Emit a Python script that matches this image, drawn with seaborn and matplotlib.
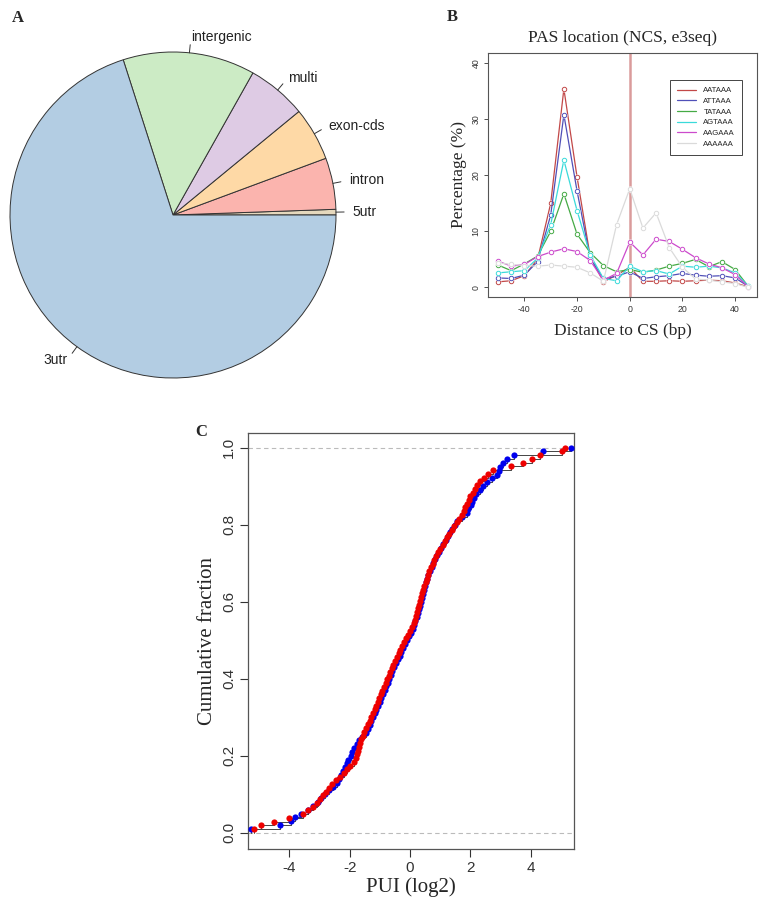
import numpy as np
import pandas as pd
import matplotlib
matplotlib.use('Agg')
import matplotlib.pyplot as plt
from matplotlib.lines import Line2D
import seaborn as sns

# ---- panel A: genomic location of sites (percent) ----
pie_labels = ['5utr', 'intron', 'exon-cds', 'multi', 'intergenic', '3utr']
pie_values = [0.56, 5.1, 5.3, 5.9, 13.1, 70.1]
pie_colors = ['#E5D8BD', '#FBB4AE', '#FED9A6', '#DECBE4', '#CCEBC5', '#B3CDE3']

# ---- panel B: PAS position relative to cleavage site ----
distance = list(range(-50, 50, 5))
motifs = ['AATAAA', 'ATTAAA', 'TATAAA', 'AGTAAA', 'AAGAAA', 'AAAAAA']
pct_AATAAA = [1.0, 1.2, 2.1, 5.0, 15.0, 35.4, 19.7, 5.5, 1.0, 2.2,
              3.6, 1.1, 1.1, 1.2, 1.1, 1.2, 1.3, 1.2, 0.8, 0.1]
pct_ATTAAA = [1.7, 1.6, 2.2, 4.6, 12.9, 30.8, 17.2, 5.2, 1.5, 2.0,
              2.8, 1.6, 1.9, 2.1, 2.5, 2.2, 2.0, 2.1, 1.7, 0.2]
pct_TATAAA = [4.0, 3.0, 4.2, 5.6, 10.0, 16.7, 9.5, 6.2, 3.9, 2.8,
              3.2, 2.7, 3.1, 3.8, 4.3, 5.0, 3.7, 4.6, 3.2, 0.2]
pct_AGTAAA = [2.6, 2.8, 3.0, 5.2, 11.2, 22.7, 13.7, 5.8, 1.6, 1.2,
              3.8, 2.8, 3.0, 2.4, 3.8, 3.6, 3.8, 3.5, 2.6, 0.3]
pct_AAGAAA = [4.7, 3.8, 4.1, 5.5, 6.3, 6.9, 6.4, 4.8, 1.3, 2.5,
              8.1, 5.8, 8.6, 8.2, 6.8, 5.3, 4.2, 3.5, 2.3, 0.1]
pct_AAAAAA = [4.4, 4.1, 3.9, 3.8, 4.0, 3.8, 3.6, 2.6, 1.1, 11.2,
              17.6, 10.6, 13.3, 7.1, 3.6, 1.5, 1.3, 1.0, 0.7, 0.0]
motif_colors = ['#C24848', '#5050B8', '#45AA45', '#3ADADA', '#CC4ACC', '#DADADA']

# ---- panel C: PUI values (log2) of the two groups ----
pui_blue = [-5.28, -4.30, -3.96, -3.82, -3.61, -3.39, -3.21, -3.06, -2.94, -2.81,
            -2.68, -2.55, -2.42, -2.36, -2.29, -2.23, -2.16, -2.10, -2.04, -1.97,
            -1.91, -1.85, -1.77, -1.69, -1.58, -1.47, -1.40, -1.34, -1.28, -1.22,
            -1.17, -1.11, -1.06, -1.00, -0.95, -0.89, -0.84, -0.79, -0.73, -0.68,
            -0.63, -0.58, -0.52, -0.46, -0.40, -0.34, -0.29, -0.23, -0.17, -0.11,
            -0.04, 0.04, 0.11, 0.15, 0.18, 0.22, 0.26, 0.29, 0.33, 0.37,
            0.40, 0.44, 0.47, 0.51, 0.54, 0.58, 0.61, 0.67, 0.73, 0.78,
            0.84, 0.90, 0.97, 1.04, 1.11, 1.18, 1.26, 1.33, 1.40, 1.48,
            1.55, 1.72, 1.88, 1.94, 2.01, 2.07, 2.14, 2.20, 2.31, 2.41,
            2.54, 2.72, 2.89, 2.94, 3.00, 3.08, 3.21, 3.45, 4.42, 5.33]
pui_red = [-5.17, -4.94, -4.51, -4.00, -3.53, -3.39, -3.21, -3.09, -2.97, -2.89,
           -2.80, -2.70, -2.57, -2.44, -2.31, -2.19, -2.08, -1.98, -1.87, -1.80,
           -1.76, -1.73, -1.69, -1.66, -1.62, -1.57, -1.51, -1.46, -1.40, -1.34,
           -1.28, -1.22, -1.17, -1.12, -1.07, -1.02, -0.97, -0.92, -0.86, -0.81,
           -0.76, -0.71, -0.65, -0.60, -0.55, -0.49, -0.43, -0.37, -0.32, -0.26,
           -0.20, -0.14, -0.07, 0.00, 0.07, 0.13, 0.16, 0.19, 0.23, 0.26,
           0.30, 0.33, 0.37, 0.40, 0.44, 0.48, 0.52, 0.55, 0.59, 0.64,
           0.70, 0.76, 0.81, 0.87, 0.94, 1.01, 1.08, 1.15, 1.22, 1.30,
           1.39, 1.47, 1.55, 1.63, 1.71, 1.78, 1.84, 1.89, 1.95, 2.00,
           2.08, 2.15, 2.23, 2.32, 2.45, 2.59, 2.76, 3.35, 3.76, 4.06,
           4.31, 5.03, 5.14]

sns.set_style('ticks')
plt.rcParams['font.family'] = ['Liberation Sans', 'DejaVu Sans']
plt.rcParams['axes.unicode_minus'] = False
SERIF = 'Liberation Serif'
FRAME = '#555555'

fig = plt.figure(figsize=(7.61, 9.08), dpi=100)
W, H = 761.0, 908.0

def px_axes(left, top, right, bottom):
    return fig.add_axes([left / W, 1 - bottom / H, (right - left) / W, (bottom - top) / H])

# ================= A: pie =================
axA = px_axes(10, 52, 336, 378)
wedges, _ = axA.pie(pie_values, colors=pie_colors, startangle=0, counterclock=True,
                    radius=1.0, wedgeprops=dict(edgecolor='#333333', linewidth=0.7))
for w, lab in zip(wedges, pie_labels):
    mid = np.deg2rad((w.theta1 + w.theta2) / 2)
    cx, cy = np.cos(mid), np.sin(mid)
    axA.plot([cx, 1.05 * cx], [cy, 1.05 * cy], color='#333333', lw=0.7, clip_on=False)
    axA.text(1.1 * cx, 1.1 * cy, lab, ha='left' if cx >= 0 else 'right', va='center',
             fontsize=10, color='#222222', clip_on=False)
axA.set_xlim(-1, 1)
axA.set_ylim(-1, 1)
axA.set_aspect('auto')
axA.axis('off')

# ================= B: PAS location =================
axB = px_axes(488, 53, 757, 297)
pas = pd.DataFrame({'distance': distance,
                    'AATAAA': pct_AATAAA, 'ATTAAA': pct_ATTAAA, 'TATAAA': pct_TATAAA,
                    'AGTAAA': pct_AGTAAA, 'AAGAAA': pct_AAGAAA, 'AAAAAA': pct_AAAAAA})
pas_long = pas.melt(id_vars='distance', var_name='motif', value_name='pct')

axB.axvline(0, color='#D48A8A', lw=1.8, alpha=0.85, zorder=1)
handles = []
for i, (m, c) in enumerate(zip(motifs, motif_colors)):
    sub = pas_long[pas_long['motif'] == m]
    z = 2 + i
    sns.lineplot(data=sub, x='distance', y='pct', color=c, lw=0.9, ax=axB,
                 legend=False, zorder=z)
    axB.plot(sub['distance'], sub['pct'], 'o', ms=4.4, mfc='white', mec='none', zorder=z + 0.1)
    axB.plot(sub['distance'], sub['pct'], 'o', ms=3.2, mfc='none', mec=c, mew=0.7, zorder=z + 0.2)
    handles.append(Line2D([], [], color=c, lw=0.9))

axB.set_xlim(-53.8, 48.3)
axB.set_ylim(-1.7, 41.8)
axB.set_xticks([-40, -20, 0, 20, 40])
axB.set_yticks([0, 10, 20, 30, 40])
axB.tick_params(axis='both', labelsize=6.3, colors='#333333', length=3, width=0.6, pad=2.5)
plt.setp(axB.get_yticklabels(), rotation=90, va='center')
axB.set_xlabel('Distance to CS (bp)', family=SERIF, fontsize=12.5, labelpad=7)
axB.set_ylabel('Percentage (%)', family=SERIF, fontsize=12.5, labelpad=3)
axB.set_title('PAS location (NCS, e3seq)', family=SERIF, fontsize=12.5, pad=8)
for s in axB.spines.values():
    s.set_color(FRAME)
    s.set_linewidth(0.8)
leg = axB.legend(handles, motifs, loc='upper right', bbox_to_anchor=(0.959, 0.906),
                 fontsize=5.6, handlelength=2.4, handletextpad=1.0, labelspacing=0.42,
                 borderpad=0.9, fancybox=False, framealpha=1)
leg.get_frame().set_edgecolor('#444444')
leg.get_frame().set_linewidth(0.7)

# ================= C: cumulative fraction =================
axC = px_axes(248, 433, 574, 849)
pui = pd.DataFrame({'pui': pui_blue + pui_red,
                    'group': ['blue'] * len(pui_blue) + ['red'] * len(pui_red)})
pui = pui.sort_values(['group', 'pui']).reset_index(drop=True)
pui['frac'] = (pui.groupby('group').cumcount() + 1) / pui.groupby('group')['pui'].transform('size')

axC.axhline(0, color='#BBBBBB', lw=0.8, ls=(0, (4, 3)), zorder=0)
axC.axhline(1, color='#BBBBBB', lw=0.8, ls=(0, (4, 3)), zorder=0)
sns.ecdfplot(data=pui, x='pui', hue='group', palette={'blue': '#444444', 'red': '#444444'},
             lw=0.7, ax=axC, legend=False)
sns.scatterplot(data=pui[pui['group'] == 'blue'], x='pui', y='frac', color='#0000EE',
                s=20, linewidth=0, ax=axC, zorder=3)
sns.scatterplot(data=pui[pui['group'] == 'red'], x='pui', y='frac', color='#EE0000',
                s=20, linewidth=0, ax=axC, zorder=4)

axC.set_xlim(-5.37, 5.44)
axC.set_ylim(-0.042, 1.038)
axC.set_xticks([-4, -2, 0, 2, 4])
axC.set_yticks([0.0, 0.2, 0.4, 0.6, 0.8, 1.0])
axC.set_yticklabels(['0.0', '0.2', '0.4', '0.6', '0.8', '1.0'])
axC.tick_params(axis='both', labelsize=11, colors='#333333', length=5.5, width=0.8, pad=3)
plt.setp(axC.get_yticklabels(), rotation=90, va='center')
axC.set_xlabel('PUI (log2)', family=SERIF, fontsize=15, labelpad=2)
axC.set_ylabel('Cumulative fraction', family=SERIF, fontsize=15, labelpad=4)
for s in axC.spines.values():
    s.set_color(FRAME)
    s.set_linewidth(0.9)

# panel letters
for lab, x, y in [('A', 12, 18), ('B', 447, 17), ('C', 195, 432)]:
    fig.text(x / W, 1 - y / H, lab, family=SERIF, fontweight='bold', fontsize=12,
             ha='left', va='center')

fig.savefig('out.png', dpi=100)
